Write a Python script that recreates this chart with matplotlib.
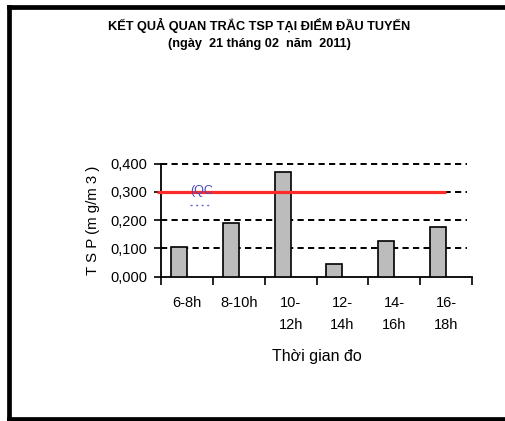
import matplotlib
matplotlib.use("Agg")
import matplotlib.pyplot as plt
from matplotlib.lines import Line2D
import numpy as np

plt.rcParams['font.family'] = ['Liberation Sans', 'DejaVu Sans']

# Measurement periods and TSP concentrations (mg/m3)
periods = ["6-8h", "8-10h", "10-\n12h", "12-\n14h", "14-\n16h", "16-\n18h"]
tsp_values = [0.105, 0.189, 0.370, 0.045, 0.126, 0.176]
qc_limit = 0.300
y_ticks = [0.0, 0.1, 0.2, 0.3, 0.4]
y_tick_labels = ["0,000", "0,100", "0,200", "0,300", "0,400"]

W, H = 505, 421
fig = plt.figure(figsize=(W / 100, H / 100), dpi=100)

# outer frame: left, top and bottom edges
frame_x0, frame_y_top, frame_y_bot = 8.5 / W, 1 - 6.5 / H, 1 - 418.5 / H
for xs, ys in [([frame_x0, frame_x0], [frame_y_bot, frame_y_top]),
               ([frame_x0, 1.01], [frame_y_top, frame_y_top]),
               ([frame_x0, 1.01], [frame_y_bot, frame_y_bot])]:
    fig.add_artist(Line2D(xs, ys, transform=fig.transFigure, color="black",
                          linewidth=3.4, solid_capstyle="projecting"))

ax_left, ax_right = 161 / W, 472 / W
ax_bottom, ax_top = 1 - 276.7 / H, 1 - 163.7 / H
ax = fig.add_axes([ax_left, ax_bottom, ax_right - ax_left, ax_top - ax_bottom])

x = np.arange(len(periods))
bar_w = 0.31

# dashed horizontal gridlines
for yv in y_ticks[1:]:
    ax.axhline(yv, xmax=0.985, color="black", linewidth=1.4,
               linestyle=(0, (3.2, 2.2)), zorder=1, clip_on=False)

ax.bar(x - bar_w / 2, tsp_values, width=bar_w, color="#bcbcbc",
       edgecolor="black", linewidth=1.2, zorder=3)

# regulatory limit line
ax.plot([-0.57, x[-1]], [qc_limit, qc_limit], color="#ff2a2a", linewidth=2.3,
        solid_capstyle="butt", zorder=4, clip_on=False)

# truncated legend entry
ax.text(0.093, 0.758, "(QC", transform=ax.transAxes, color="#4a4ab8",
        fontsize=9, ha="left", va="center", zorder=5)
ax.plot([0.093, 0.165], [0.634, 0.634], transform=ax.transAxes, color="#6a6ad0",
        linewidth=1.0, linestyle=(0, (1.5, 2.5)), zorder=5)

ax.set_xlim(-0.5, len(periods) - 0.5)
ax.set_ylim(0, 0.4)

for side in ["top", "right"]:
    ax.spines[side].set_visible(False)
for side in ["left", "bottom"]:
    ax.spines[side].set_linewidth(1.3)

ax.set_yticks(y_ticks)
ax.set_yticklabels(y_tick_labels, fontsize=10.5)
ax.tick_params(axis="y", length=5, width=1.2, pad=5)

ax.set_xticks(np.arange(len(periods) + 1) - 0.5)
ax.set_xticklabels([])
ax.tick_params(axis="x", which="major", length=6, width=1.2)
ax.set_xticks(x, minor=True)
ax.set_xticklabels(periods, minor=True, fontsize=10.5, linespacing=1.75, va="top")
ax.tick_params(axis="x", which="minor", length=0, pad=14)

ax.set_ylabel("T S P (m g/m 3 )", fontsize=10.8, labelpad=7)
ax.set_xlabel("Thời gian đo", fontsize=11.5, labelpad=12)

fig.text(259.5 / W, 1 - 25 / H, "KẾT QUẢ QUAN TRẮC TSP TẠI ĐIỂM ĐẦU TUYẾN",
         ha="center", va="center", fontsize=9.2, fontweight="bold")
fig.text(259.5 / W, 1 - 44 / H, "(ngày  21 tháng 02  năm  2011)",
         ha="center", va="center", fontsize=9.2, fontweight="bold")

fig.savefig("out.png", dpi=100)
